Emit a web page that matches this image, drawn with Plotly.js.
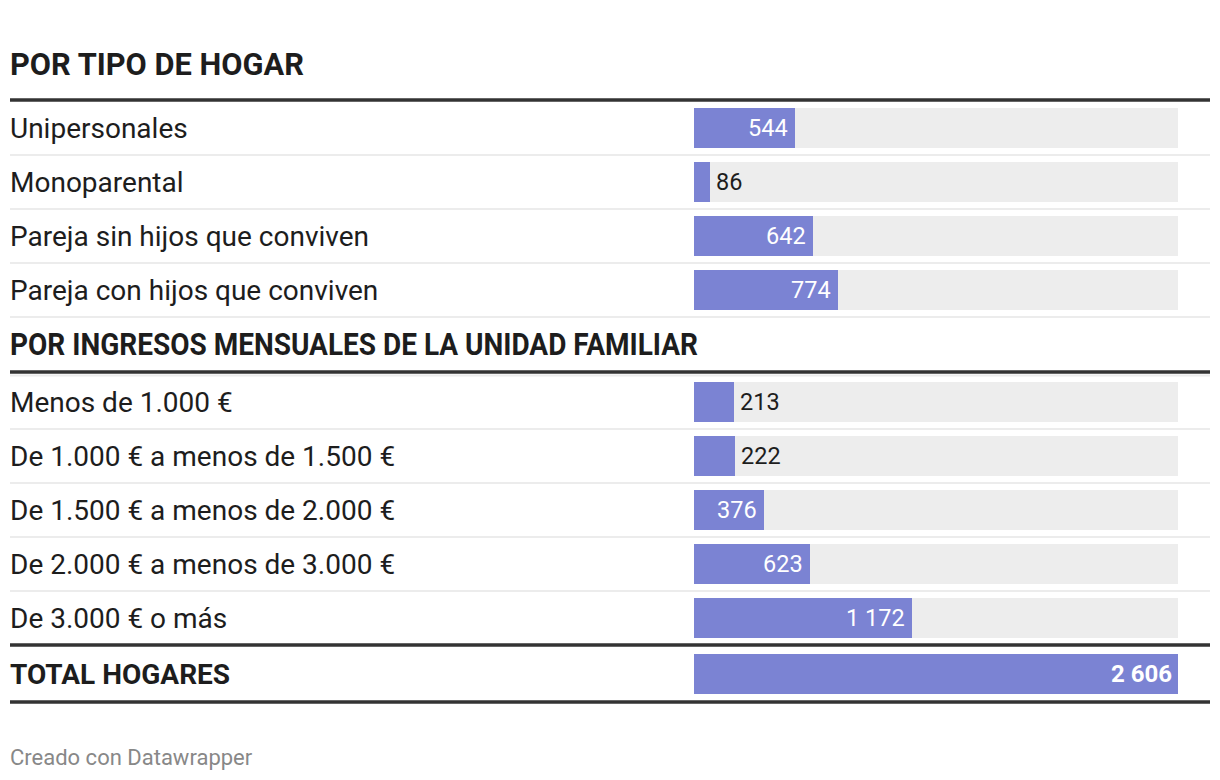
<!DOCTYPE html>
<html>
<head>
<meta charset="utf-8">
<script src="https://cdn.plot.ly/plotly-3.0.1.min.js"></script>
<style>
html,body{margin:0;padding:0;background:#fff;}
#chart{width:1220px;height:780px;}
</style>
</head>
<body>
<div id="chart"></div>
<script>
// ---------- DATA ----------
const section1Title = 'POR TIPO DE HOGAR';
const section1Labels = ['Unipersonales', 'Monoparental', 'Pareja sin hijos que conviven', 'Pareja con hijos que conviven'];
const section1Values = [544, 86, 642, 774];

const section2Title = 'POR INGRESOS MENSUALES DE LA UNIDAD FAMILIAR';
const section2Labels = ['Menos de 1.000 €', 'De 1.000 € a menos de 1.500 €', 'De 1.500 € a menos de 2.000 €', 'De 2.000 € a menos de 3.000 €', 'De 3.000 € o más'];
const section2Values = [213, 222, 376, 623, 1172];

const totalLabel = 'TOTAL HOGARES';
const totalValue = 2606;

const footerText = 'Creado con Datawrapper';

// ---------- LAYOUT CONSTANTS ----------
const W = 1220, H = 780;
const barLeft = 694, barRight = 1178;
const rowH = 54, barH = 40;
const barColor = '#7b83d3';
const bgColor = '#ededed';
const textColor = '#1d1d1d';
const FONT = 'Roboto, "Open Sans", sans-serif';

function fmt(v) {
  return String(v).replace(/\B(?=(\d{3})+(?!\d))/g, ' ');
}

// vertical structure (pixel space used as y axis units)
const head1Y = 64, line1Y = 100;
const rows1Start = line1Y + 28;
const rows1Y = section1Labels.map((_, i) => rows1Start + i * rowH);
const head2Y = rows1Start + section1Labels.length * rowH;            // 344
const line2Y = head2Y + 28;                                          // 372
const rows2Start = line2Y + 30;
const rows2Y = section2Labels.map((_, i) => rows2Start + i * rowH);
const line3Y = rows2Start + (section2Labels.length - 1) * rowH + 27;  // 645
const totalY = line3Y + 29;
const line4Y = totalY + 28;

const allLabels = section1Labels.concat(section2Labels);
const allValues = section1Values.concat(section2Values);
const allY = rows1Y.concat(rows2Y);

const traces = [
  { // background bars
    type: 'bar', orientation: 'h',
    x: allY.map(() => totalValue), y: allY,
    width: barH, marker: {color: bgColor},
    hoverinfo: 'skip', showlegend: false
  },
  { // value bars
    type: 'bar', orientation: 'h',
    x: allValues, y: allY,
    width: barH, marker: {color: barColor},
    hoverinfo: 'skip', showlegend: false
  },
  { // total bar
    type: 'bar', orientation: 'h',
    x: [totalValue], y: [totalY],
    width: barH, marker: {color: barColor},
    hoverinfo: 'skip', showlegend: false
  }
];

const px = v => v / W;
const annotations = [];
const shapes = [];

function label(text, y, size, bold, color, name) {
  annotations.push({
    name: name || '',
    xref: 'paper', yref: 'y', x: px(10), y: y,
    xanchor: 'left', yanchor: 'middle', showarrow: false,
    borderpad: 0, borderwidth: 0,
    text: bold ? '<b>' + text + '</b>' : text,
    font: {family: FONT, size: size, color: color || textColor}
  });
}

label(section1Title, head1Y, 30.8, true);
label(section2Title, head2Y, 30.8, true, textColor, 'head2');
allLabels.forEach((t, i) => label(t, allY[i], 28, false));
label(totalLabel, totalY, 28, true);
annotations.push({
  xref: 'paper', yref: 'paper', x: px(10), y: 1 - 757 / H,
  xanchor: 'left', yanchor: 'middle', showarrow: false,
  borderpad: 0, borderwidth: 0,
  text: footerText, font: {family: FONT, size: 22, color: '#888888'}
});

// value labels
const pxPerUnit = (barRight - barLeft) / totalValue;
allValues.forEach((v, i) => {
  const inside = v * pxPerUnit > 60;
  annotations.push({
    xref: 'x', yref: 'y', x: v, y: allY[i],
    xanchor: inside ? 'right' : 'left', xshift: inside ? -7 : 6,
    yanchor: 'middle', showarrow: false,
    borderpad: 0, borderwidth: 0,
    text: fmt(v),
    font: {family: FONT, size: 23.5, color: inside ? '#ffffff' : textColor}
  });
});
annotations.push({
  xref: 'x', yref: 'y', x: totalValue, y: totalY,
  xanchor: 'right', xshift: -6, yanchor: 'middle', showarrow: false,
  borderpad: 0, borderwidth: 0,
  text: '<b>' + fmt(totalValue) + '</b>',
  font: {family: FONT, size: 24, color: '#ffffff'}
});

// separators
function hline(y, width, color) {
  shapes.push({type: 'line', xref: 'paper', yref: 'y', x0: px(10), x1: px(1210), y0: y, y1: y,
    line: {color: color, width: width}, layer: 'above'});
}
rows1Y.forEach(y => hline(y + rowH / 2, 2, '#ececec'));
rows2Y.slice(0, -1).forEach(y => hline(y + rowH / 2, 2, '#ececec'));
hline(line2Y + 3.5, 2, '#ececec');
hline(line1Y, 3.5, '#333333');
hline(line2Y, 3.5, '#333333');
hline(line3Y, 3.5, '#333333');
hline(line4Y, 3.5, '#333333');

const layout = {
  width: W, height: H,
  margin: {l: 0, r: 0, t: 0, b: 0, pad: 0},
  paper_bgcolor: '#ffffff', plot_bgcolor: '#ffffff',
  barmode: 'overlay', bargap: 0,
  showlegend: false,
  xaxis: {domain: [px(barLeft), px(barRight)], range: [0, totalValue], visible: false, fixedrange: true},
  yaxis: {domain: [0, 1], range: [H, 0], visible: false, fixedrange: true},
  annotations: annotations,
  shapes: shapes,
  font: {family: FONT}
};

Plotly.newPlot('chart', traces, layout, {displayModeBar: false, staticPlot: true}).then(gd => {
  // the second section header is set condensed in the original: fit it to its width
  const idx = annotations.findIndex(a => a.name === 'head2');
  const t = gd.querySelector('.annotation[data-index="' + idx + '"] text.annotation-text');
  if (t) {
    const before = t.getBBox();
    t.setAttribute('textLength', 688);
    t.setAttribute('lengthAdjust', 'spacingAndGlyphs');
    const after = t.getBBox();
    const dx = before.x - after.x;
    const prev = t.getAttribute('transform') || '';
    t.setAttribute('transform', prev + ' translate(' + dx + ',0)');
  }
});
</script>
</body>
</html>
